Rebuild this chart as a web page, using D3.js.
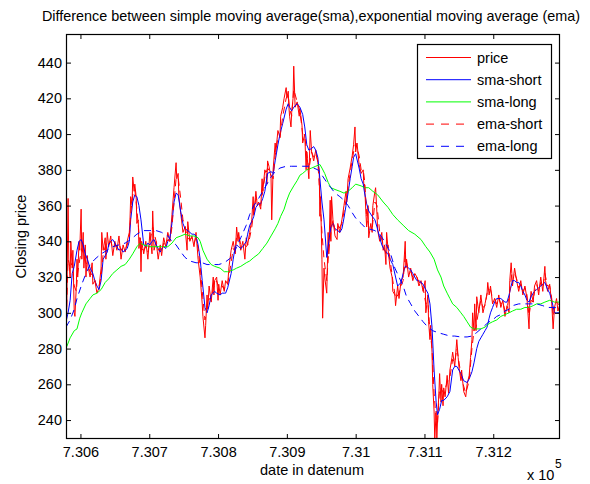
<!DOCTYPE html>
<html>
<head>
<meta charset="utf-8">
<script src="https://cdnjs.cloudflare.com/ajax/libs/d3/7.8.5/d3.min.js"></script>
<style>
  body { margin: 0; background: #fff; }
  text { font-family: "Liberation Sans", Arial, Helvetica, sans-serif; fill: #000; }
</style>
</head>
<body>
<div id="chart"></div>
<script>
// [datenum, closing price]
const price = [[730579,283],[730580,300],[730582,364],[730583,330],[730585,320],[730586,340],[730588,325],[730589,335],[730591,300],[730592,298],[730594,315],[730595,330],[730596,320],[730598,340],[730599,335],[730601,358],[730602,330],[730604,345],[730605,325],[730607,338],[730608,320],[730610,332],[730611,326],[730614,320],[730617,328],[730618,316],[730621,318],[730624,311],[730627,314],[730630,325],[730631,345],[730633,335],[730636,342],[730637,330],[730639,345],[730641,337],[730644,343],[730647,332],[730650,340],[730653,335],[730656,343],[730659,330],[730662,338],[730665,334],[730668,340],[730671,345],[730672,352],[730673,365],[730675,360],[730676,376],[730678,368],[730679,372],[730681,365],[730682,350],[730684,352],[730685,336],[730687,342],[730688,323],[730689,340],[730692,333],[730695,340],[730698,330],[730701,345],[730704,333],[730705,357],[730707,335],[730710,340],[730713,330],[730716,338],[730718,332],[730721,342],[730724,337],[730727,345],[730730,340],[730733,355],[730736,370],[730739,384],[730740,375],[730742,378],[730743,365],[730746,355],[730749,345],[730752,348],[730755,335],[730756,351],[730759,340],[730762,343],[730765,337],[730768,345],[730771,330],[730774,320],[730777,305],[730778,298],[730781,286],[730782,293],[730784,310],[730785,302],[730787,315],[730790,306],[730793,320],[730794,310],[730795,318],[730798,320],[730800,307],[730801,316],[730803,310],[730806,318],[730809,312],[730811,318],[730814,316],[730816,326],[730819,335],[730822,340],[730825,333],[730827,348],[730829,340],[730830,345],[730833,335],[730836,340],[730839,330],[730841,342],[730843,338],[730846,345],[730849,352],[730851,365],[730852,355],[730855,368],[730857,360],[730859,362],[730862,358],[730864,375],[730865,368],[730868,380],[730870,378],[730871,372],[730872,385],[730874,382],[730877,376],[730878,352],[730880,380],[730883,395],[730884,390],[730887,402],[730890,398],[730891,410],[730894,415],[730896,420],[730899,426],[730900,420],[730902,424],[730903,415],[730904,410],[730906,404],[730907,412],[730909,420],[730910,438],[730912,415],[730915,418],[730918,410],[730919,414],[730922,405],[730923,395],[730926,400],[730928,380],[730929,390],[730932,375],[730934,402],[730936,390],[730939,385],[730942,391],[730945,384],[730947,380],[730948,354],[730949,365],[730951,330],[730952,297],[730954,325],[730955,320],[730958,311],[730960,345],[730961,333],[730963,363],[730964,340],[730965,365],[730967,352],[730970,343],[730973,341],[730974,350],[730977,345],[730980,352],[730983,360],[730986,368],[730987,362],[730989,375],[730992,381],[730995,388],[730997,394],[730999,404],[731000,390],[731002,395],[731005,383],[731008,378],[731011,380],[731012,370],[731013,372],[731015,355],[731016,348],[731018,360],[731019,342],[731022,350],[731024,345],[731025,360],[731028,368],[731029,370],[731031,355],[731032,346],[731035,340],[731038,345],[731040,335],[731042,338],[731044,327],[731045,345],[731047,336],[731050,325],[731053,320],[731054,312],[731057,310],[731058,304],[731061,315],[731063,308],[731066,318],[731069,320],[731072,340],[731073,325],[731074,330],[731077,320],[731080,325],[731083,318],[731086,322],[731089,320],[731092,315],[731095,318],[731098,312],[731101,318],[731102,300],[731105,310],[731106,295],[731108,285],[731109,293],[731111,278],[731112,260],[731114,245],[731115,229],[731117,245],[731118,230],[731119,240],[731121,255],[731122,266],[731124,250],[731125,260],[731127,248],[731128,258],[731130,253],[731133,265],[731135,255],[731137,268],[731140,275],[731141,278],[731144,270],[731147,285],[731149,275],[731150,270],[731153,262],[731154,268],[731157,256],[731160,253],[731162,260],[731165,265],[731167,275],[731169,285],[731170,300],[731172,290],[731173,305],[731175,290],[731176,309],[731179,300],[731182,310],[731185,300],[731188,305],[731191,311],[731192,317],[731194,310],[731196,315],[731199,305],[731202,308],[731205,303],[731208,310],[731211,303],[731214,307],[731217,298],[731220,304],[731223,300],[731224,318],[731226,328],[731227,322],[731228,315],[731231,325],[731234,318],[731237,312],[731240,318],[731243,310],[731246,315],[731249,308],[731252,291],[731253,305],[731255,312],[731258,306],[731260,315],[731263,318],[731266,310],[731269,320],[731272,312],[731275,326],[731276,318],[731279,312],[731282,316],[731285,305],[731287,291],[731289,303],[731292,308],[731294,301],[731297,305]];

const smaShort = [[730579,295],[730582,300],[730585,307],[730588,322],[730591,326],[730595,335],[730598,340],[730601,341],[730604,338],[730607,333],[730610,330],[730614,325],[730618,322],[730621,318],[730624,315],[730627,313],[730630,318],[730633,330],[730636,332],[730639,334],[730641,338],[730644,340],[730647,341],[730650,339],[730653,337],[730656,335],[730659,336],[730662,334],[730665,335],[730668,336],[730671,340],[730673,352],[730676,362],[730679,366],[730682,365],[730685,360],[730688,352],[730692,338],[730695,337],[730698,339],[730701,338],[730704,340],[730707,341],[730710,338],[730713,336],[730716,334],[730718,336],[730721,337],[730724,336],[730727,340],[730730,342],[730733,350],[730736,362],[730739,367],[730742,366],[730746,356],[730749,350],[730752,347],[730756,346],[730759,345],[730762,344],[730765,344],[730768,343],[730771,338],[730774,330],[730777,318],[730781,303],[730784,300],[730787,304],[730790,310],[730793,311],[730795,312],[730798,311],[730803,310],[730806,311],[730809,311],[730811,311],[730814,314],[730819,322],[730822,330],[730825,337],[730827,338],[730830,337],[730833,336],[730836,337],[730841,340],[730843,344],[730846,349],[730849,351],[730852,354],[730855,359],[730859,361],[730862,361],[730865,364],[730868,368],[730872,378],[730877,379],[730880,378],[730883,385],[730887,394],[730890,400],[730894,406],[730899,414],[730902,417],[730904,415],[730907,413],[730910,415],[730915,417],[730919,415],[730923,411],[730926,404],[730929,394],[730932,391],[730936,392],[730939,393],[730942,391],[730945,387],[730948,375],[730951,362],[730954,352],[730958,331],[730961,340],[730964,348],[730967,350],[730970,347],[730974,346],[730977,345],[730980,347],[730983,353],[730986,360],[730989,367],[730992,375],[730995,382],[730997,387],[731000,389],[731005,381],[731008,375],[731011,372],[731013,367],[731016,361],[731019,357],[731024,354],[731028,352],[731031,348],[731035,342],[731038,338],[731042,335],[731047,333],[731050,330],[731054,327],[731058,320],[731061,315],[731066,317],[731069,322],[731072,326],[731074,326],[731077,325],[731080,324],[731083,322],[731086,320],[731089,318],[731092,318],[731095,317],[731098,316],[731102,313],[731105,311],[731108,305],[731111,292],[731114,268],[731117,250],[731119,243],[731122,246],[731125,251],[731128,251],[731133,253],[731137,256],[731141,268],[731144,270],[731147,270],[731150,268],[731153,266],[731157,262],[731162,261],[731165,263],[731169,267],[731172,272],[731176,280],[731179,284],[731182,286],[731185,288],[731188,290],[731191,292],[731194,297],[731196,300],[731199,303],[731202,306],[731205,308],[731208,308],[731211,308],[731214,307],[731217,306],[731220,306],[731223,310],[731226,315],[731228,318],[731231,318],[731234,317],[731237,317],[731240,315],[731243,312],[731246,310],[731249,307],[731252,306],[731255,309],[731258,311],[731260,312],[731263,313],[731266,314],[731269,315],[731272,316],[731275,317],[731279,313],[731282,311],[731285,307],[731289,300],[731292,300],[731297,300]];

const smaLong = [[730580,281],[730585,286],[730591,290],[730595,291],[730599,297],[730602,300],[730608,305],[730614,308],[730618,310],[730624,311],[730630,313],[730636,317],[730641,319],[730647,322],[730653,324],[730659,326],[730665,327],[730671,330],[730676,333],[730682,337],[730687,339],[730692,338],[730701,337],[730710,337],[730718,337],[730727,337],[730733,339],[730739,342],[730746,343],[730752,344],[730759,343],[730765,343],[730771,342],[730774,340],[730778,335],[730784,330],[730790,327],[730795,326],[730803,325],[730809,323],[730814,323],[730822,324],[730827,325],[730833,326],[730841,328],[730846,329],[730852,331],[730859,333],[730865,336],[730871,339],[730877,343],[730883,347],[730887,350],[730891,354],[730896,358],[730900,363],[730904,367],[730910,371],[730915,374],[730919,377],[730923,378],[730929,380],[730936,381],[730942,382],[730948,383],[730951,381],[730955,378],[730960,373],[730964,370],[730970,369],[730977,368],[730983,367],[730989,368],[730995,370],[731000,372],[731008,371],[731013,370],[731019,370],[731025,368],[731032,366],[731040,362],[731047,359],[731054,355],[731061,352],[731069,349],[731077,346],[731086,344],[731095,341],[731102,337],[731108,334],[731114,330],[731119,324],[731124,320],[731128,315],[731133,311],[731137,308],[731141,305],[731147,303],[731153,300],[731157,298],[731162,295],[731167,292],[731172,291],[731176,291],[731182,291],[731188,292],[731194,294],[731199,295],[731205,296],[731211,298],[731217,299],[731223,300],[731228,301],[731234,302],[731240,302],[731246,303],[731252,303],[731258,304],[731263,305],[731269,305],[731275,306],[731282,307],[731289,306],[731297,306]];

const emaShort = [[730579,290],[730582,330],[730585,325],[730588,328],[730591,315],[730594,312],[730596,322],[730599,330],[730602,336],[730605,332],[730608,328],[730611,326],[730614,323],[730618,320],[730621,318],[730624,314],[730627,315],[730630,320],[730633,333],[730636,337],[730639,340],[730641,339],[730644,340],[730647,336],[730650,338],[730653,337],[730656,339],[730659,335],[730662,336],[730665,335],[730668,338],[730671,342],[730673,355],[730676,366],[730679,369],[730682,358],[730685,345],[730688,336],[730692,335],[730695,337],[730698,334],[730701,340],[730705,348],[730710,340],[730713,335],[730716,336],[730718,334],[730721,339],[730724,338],[730727,341],[730730,340],[730733,348],[730736,362],[730739,375],[730742,376],[730746,363],[730749,352],[730752,349],[730755,342],[730759,341],[730762,342],[730765,339],[730768,342],[730771,336],[730774,326],[730777,312],[730781,296],[730784,303],[730787,308],[730790,307],[730793,314],[730795,315],[730798,318],[730801,314],[730806,315],[730809,313],[730811,316],[730814,316],[730819,328],[730822,336],[730825,334],[730827,343],[730830,343],[730833,338],[730836,339],[730841,337],[730843,338],[730846,342],[730849,348],[730852,357],[730855,364],[730859,362],[730862,360],[730865,368],[730868,376],[730872,381],[730877,378],[730880,375],[730883,388],[730887,398],[730890,398],[730894,410],[730899,420],[730902,422],[730904,414],[730907,410],[730910,425],[730915,418],[730919,413],[730923,400],[730926,399],[730929,389],[730932,380],[730936,390],[730939,387],[730942,389],[730945,385],[730948,365],[730951,345],[730954,330],[730958,318],[730961,335],[730964,345],[730967,352],[730970,346],[730974,346],[730980,350],[730986,363],[730989,370],[730992,378],[730997,390],[731000,395],[731005,388],[731008,380],[731011,380],[731013,374],[731016,355],[731019,348],[731024,347],[731028,362],[731031,360],[731035,345],[731040,338],[731044,333],[731047,338],[731050,330],[731054,318],[731058,308],[731063,311],[731066,315],[731069,318],[731072,332],[731074,328],[731077,323],[731080,323],[731083,320],[731086,321],[731089,320],[731092,317],[731095,317],[731098,314],[731102,305],[731105,306],[731108,290],[731111,280],[731114,255],[731117,240],[731119,238],[731122,258],[731125,257],[731128,255],[731133,261],[731137,264],[731141,274],[731144,272],[731147,280],[731150,273],[731153,265],[731157,259],[731160,255],[731165,262],[731169,280],[731172,290],[731175,292],[731179,302],[731182,307],[731185,303],[731188,304],[731192,313],[731196,313],[731199,308],[731202,308],[731205,305],[731208,308],[731211,305],[731214,306],[731217,301],[731220,302],[731224,312],[731227,322],[731231,322],[731234,319],[731237,314],[731240,316],[731243,312],[731246,314],[731249,310],[731252,298],[731255,307],[731258,306],[731260,312],[731263,316],[731266,312],[731269,317],[731272,314],[731275,322],[731279,315],[731282,315],[731285,308],[731287,298],[731289,302],[731292,306],[731297,304]];

const emaLong = [[730579,292],[730585,296],[730591,302],[730595,308],[730602,316],[730608,322],[730614,327],[730621,330],[730630,333],[730639,335],[730647,337],[730656,338],[730665,339],[730673,341],[730682,344],[730692,346],[730701,346],[730710,346],[730718,345],[730727,343],[730733,340],[730739,338],[730746,334],[730752,331],[730759,329],[730768,328],[730777,328],[730784,327],[730793,327],[730801,327],[730809,328],[730816,330],[730822,332],[730827,337],[730833,342],[730841,349],[730846,355],[730852,360],[730859,364],[730865,368],[730871,372],[730877,376],[730883,379],[730890,381],[730899,382],[730907,382],[730915,382],[730923,382],[730932,382],[730939,381],[730945,380],[730951,377],[730958,373],[730964,370],[730970,367],[730977,365],[730983,363],[730989,360],[730995,356],[731000,353],[731008,350],[731013,348],[731019,347],[731028,346],[731035,344],[731042,340],[731050,334],[731057,325],[731063,320],[731069,315],[731074,309],[731080,305],[731086,301],[731092,298],[731098,295],[731105,292],[731112,290],[731119,289],[731128,288],[731137,287],[731144,287],[731153,286.5],[731162,286.5],[731169,287],[731176,289],[731182,291],[731188,293],[731194,295],[731199,296],[731205,298],[731211,299],[731217,301],[731223,302],[731228,304],[731237,305],[731246,305],[731255,305],[731263,305],[731272,304],[731279,303],[731287,303],[731297,303]];

const seriesNames = ["price", "sma-short", "sma-long", "ema-short", "ema-long"];
const seriesColors = ["#ff0000", "#0000ff", "#00ff00", "#ff0000", "#0000ff"];
const seriesDashed = [false, false, false, true, true];

const xTicks = [730600, 730700, 730800, 730900, 731000, 731100, 731200];
const xTickLabels = ["7.306", "7.307", "7.308", "7.309", "7.31", "7.311", "7.312"];
const yTicks = [240, 260, 280, 300, 320, 340, 360, 380, 400, 420, 440];

const margin = { top: 34, right: 30, bottom: 45, left: 66 },
  width = 590 - margin.left - margin.right,
  height = 484 - margin.top - margin.bottom;

const svg = d3
  .select("#chart")
  .append("svg")
  .attr("width", 590)
  .attr("height", 484)
  .style("display", "block");

svg.append("rect").attr("width", 590).attr("height", 484).attr("fill", "#fff");

const g = svg
  .append("g")
  .attr("transform", `translate(${margin.left}, ${margin.top})`);

const x = d3.scaleLinear().domain([730579, 731297]).range([0, width]);
const y = d3.scaleLinear().domain([229.4, 456]).range([height, 0]);

g.append("clipPath")
  .attr("id", "plot-clip")
  .append("rect")
  .attr("width", width)
  .attr("height", height);

const line = d3
  .line()
  .x((d) => x(d[0]))
  .y((d) => y(d[1]));

const allSeries = [price, smaShort, smaLong, emaShort, emaLong];

const lines = g.append("g").attr("clip-path", "url(#plot-clip)");
allSeries.forEach((data, i) => {
  lines
    .append("path")
    .datum(data)
    .attr("d", line)
    .attr("fill", "none")
    .attr("stroke", seriesColors[i])
    .attr("stroke-width", 1)
    .attr("stroke-dasharray", seriesDashed[i] ? "7,5" : null);
});

// axes: ticks point inward, labels only bottom and left
const fmtX = (d) => xTickLabels[xTicks.indexOf(d)];

function styleAxis(sel) {
  sel.select(".domain").remove();
  sel.selectAll(".tick line").attr("stroke", "#000");
  sel.selectAll("text")
    .style("font-family", '"Liberation Sans", Arial, sans-serif')
    .style("font-size", "14.5px")
    .attr("fill", "#000");
}

g.append("g")
  .attr("transform", `translate(0, ${height})`)
  .call(d3.axisBottom(x).tickValues(xTicks).tickFormat(fmtX).tickSizeInner(-5).tickSizeOuter(0).tickPadding(8))
  .call(styleAxis);

g.append("g")
  .call(d3.axisTop(x).tickValues(xTicks).tickFormat("").tickSizeInner(-5).tickSizeOuter(0))
  .call(styleAxis);

g.append("g")
  .call(d3.axisLeft(y).tickValues(yTicks).tickSizeInner(-5).tickSizeOuter(0).tickPadding(4))
  .call(styleAxis);

g.append("g")
  .attr("transform", `translate(${width}, 0)`)
  .call(d3.axisRight(y).tickValues(yTicks).tickFormat("").tickSizeInner(-5).tickSizeOuter(0))
  .call(styleAxis);

g.append("rect")
  .attr("x", 0.5)
  .attr("y", 0.5)
  .attr("width", width - 1)
  .attr("height", height - 1)
  .attr("fill", "none")
  .attr("stroke", "#000")
  .attr("stroke-width", 1.2);

// labels
svg.append("text")
  .attr("x", 311)
  .attr("y", 21)
  .attr("text-anchor", "middle")
  .style("font-size", "14.4px")
  .text("Difference between simple moving average(sma),exponential moving average (ema)");

svg.append("text")
  .attr("x", 312)
  .attr("y", 475)
  .attr("text-anchor", "middle")
  .style("font-size", "14.5px")
  .text("date in datenum");

svg.append("text")
  .attr("transform", "translate(25.5, 236.5) rotate(-90)")
  .attr("text-anchor", "middle")
  .style("font-size", "14.5px")
  .text("Closing price");

svg.append("text")
  .attr("x", 527)
  .attr("y", 479.5)
  .style("font-size", "14.5px")
  .text("x 10");

svg.append("text")
  .attr("x", 555)
  .attr("y", 468)
  .style("font-size", "12px")
  .text("5");

// legend
const legend = svg.append("g").attr("transform", "translate(417, 44)");
legend.append("rect")
  .attr("x", 0.5)
  .attr("y", 0.5)
  .attr("width", 134)
  .attr("height", 114)
  .attr("fill", "#fff")
  .attr("stroke", "#000")
  .attr("stroke-width", 1.2);

seriesNames.forEach((name, i) => {
  const ry = 13.5 + i * 22.2;
  legend.append("line")
    .attr("x1", 9)
    .attr("x2", 54)
    .attr("y1", ry)
    .attr("y2", ry)
    .attr("stroke", seriesColors[i])
    .attr("stroke-width", 1)
    .attr("stroke-dasharray", seriesDashed[i] ? "8,7" : null);
  legend.append("text")
    .attr("x", 60)
    .attr("y", ry + 5)
    .style("font-size", "14.5px")
    .text(name);
});
</script>
</body>
</html>
